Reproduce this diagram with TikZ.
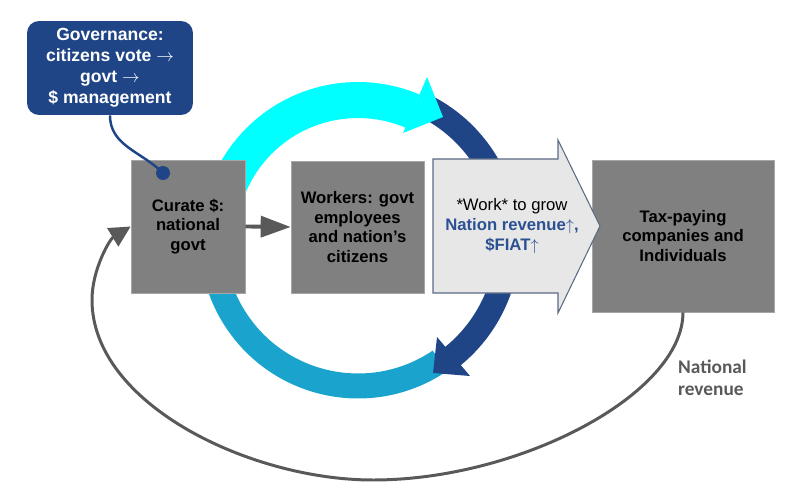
\documentclass[tikz,border=0pt]{standalone}
\usepackage{fontspec}
\setmainfont{Liberation Sans}
\newfontfamily\labelfont{Carlito}
\usetikzlibrary{arrows.meta,calc}
\definecolor{color1}{HTML}{1F4587}
\definecolor{color2}{HTML}{00FFFF}
\definecolor{color3}{HTML}{1AA3CC}
\definecolor{color4}{HTML}{808080}
\definecolor{color5}{HTML}{595959}
\definecolor{color6}{HTML}{E7E7E7}
\definecolor{color7}{HTML}{5A6A85}
\definecolor{color8}{HTML}{2B5192}

\tikzset{
	box/.style={
		draw=color4!70!white,
		fill=color4,
		align=center,
		inner sep=0pt,
		font=\bfseries\fontsize{9.5}{11.2}\selectfont},
	ring/.style={line width=#1}
}

\begin{document}
\begin{tikzpicture}[x=0.02cm,y=0.02cm]
		\useasboundingbox (0,0) rectangle (808,484);
		% ring centre
		\coordinate (rc) at (358,244);
		% light blue arc
		\draw[ring=0.5cm, color3] ($(rc)+(-56:2.92cm)$) arc[start angle=-56, end angle=-185, radius=2.92cm];
		% dark blue arc
		\draw[ring=0.48cm, color1] ($(rc)+(64:3cm)$) arc[start angle=64, end angle=-52, radius=3cm];
		\fill[color1] (437,147) -- (433,111) -- (470,108) -- cycle;
		% cyan arc
		\draw[ring=0.72cm, color2] ($(rc)+(190:2.8cm)$) arc[start angle=190, end angle=67, radius=2.8cm];
		\fill[color2] (427,407) -- (443,367) -- (403,351) -- cycle;

		% boxes
		\node[box,
		minimum width=2.28cm,
		minimum height=2.66cm] (curate) at (188,257.5) {Curate \$:\\national\\govt};
		\node[box,
		minimum width=2.66cm,
		minimum height=2.64cm] (workers) at (357.5,257) {Workers: govt\\employees\\and nation’s\\citizens};
		\node[box,
		minimum width=3.64cm,
		minimum height=3.04cm] (tax) at (683,248) {Tax-paying\\companies and\\Individuals};

		% work arrow
		\draw[fill=color6, draw=color7, line width=0.6pt]
		(433,191) -- (558,191) -- (558,171) -- (600,258) -- (558,344) -- (558,325) -- (433,325) -- cycle;
		\node[align=center,
		font=\fontsize{9.5}{11.5}\selectfont] (work) at (512,258)
		{*Work* to grow\\\textcolor{color8}{\bfseries Nation revenue$\uparrow$,}\\\textcolor{color8}{\bfseries \$FIAT$\uparrow$}};

		% curate -> workers
		\draw [line width=2.2pt,
		color5,
		-{Triangle[length=0.6cm,width=0.42cm]}
		] (curate.east) -- (workers.west);

		% national revenue loop
		\draw [line width=1.7pt,
		color5,
		-{Triangle[length=0.42cm,width=0.42cm]}
		] (tax.south) .. controls (683,90) and (520,4) .. (373,4)
		.. controls (250,4) and (92,80) .. (92,184)
		.. controls (92,215) and (110,245) .. (curate.west);
		\node[anchor=west,
		align=left,
		text=color5,
		font=\labelfont\bfseries\fontsize{11}{12.5}\selectfont] (revenue) at (672,106) {National\\revenue};

		% governance callout
		\node[fill=color1,
		rounded corners=0.24cm,
		minimum width=3.32cm,
		minimum height=1.88cm,
		text=white,
		align=center,
		font=\bfseries\fontsize{10}{12}\selectfont] (gov) at (110,416)
		{Governance:\\citizens vote $\rightarrow$\\govt $\rightarrow$\\\$ management};
		\node[circle, fill=color1, inner sep=0pt, minimum size=0.28cm] (dot) at (163,311) {};
		\draw[color1, line width=1.4pt] (gov.south) to[out=-90, in=135] (dot.center);
\end{tikzpicture}
\end{document}
